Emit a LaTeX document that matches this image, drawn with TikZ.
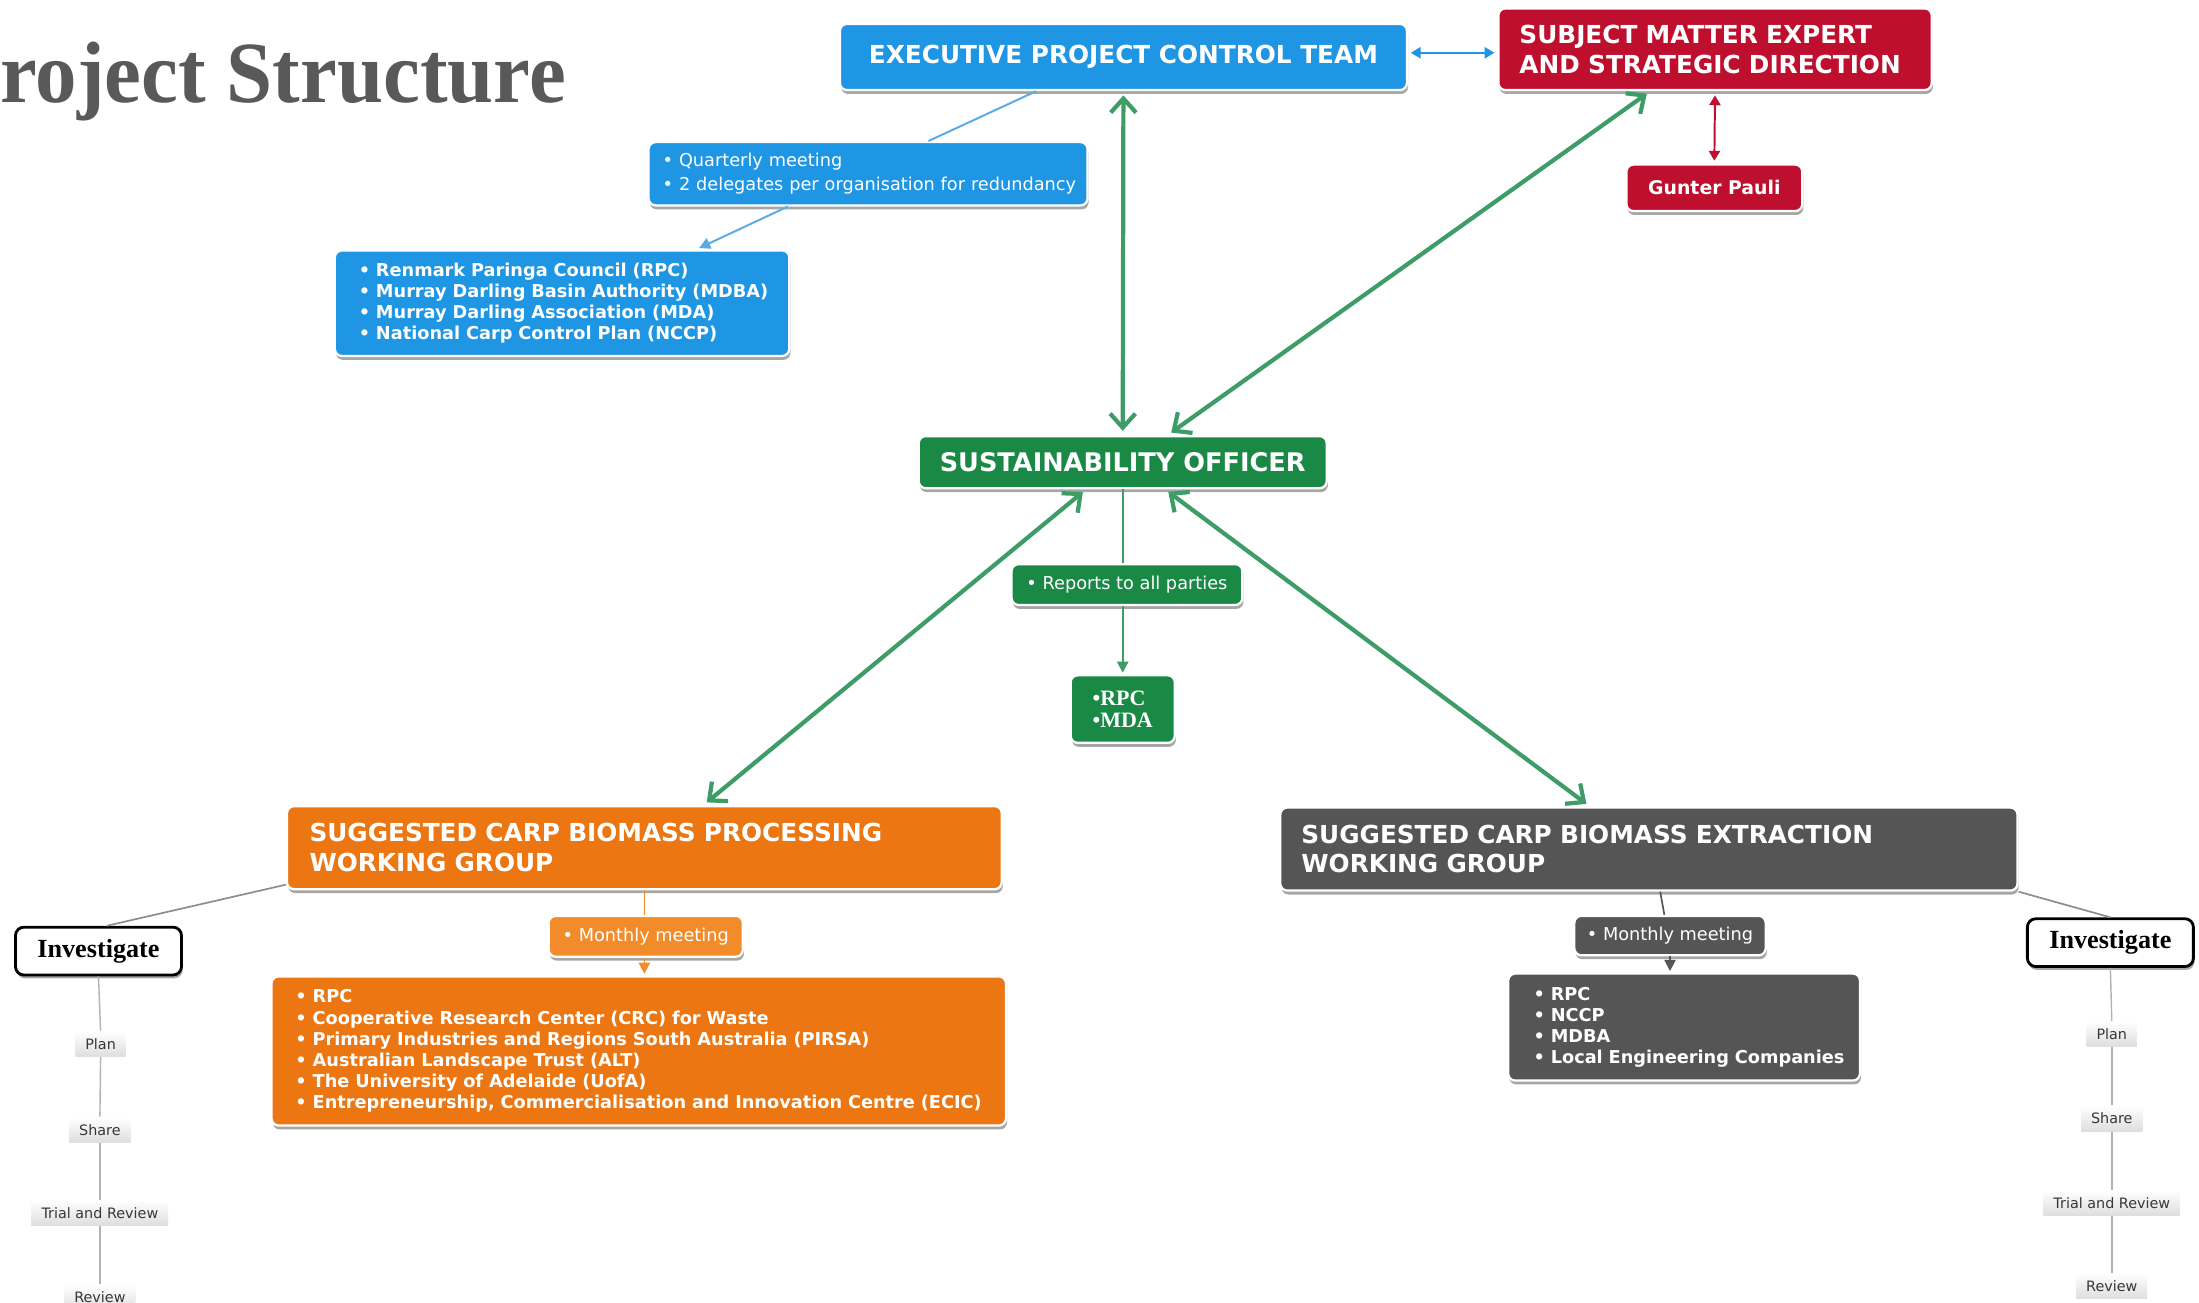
\documentclass[tikz,border=0pt]{standalone}
\usepackage{fontspec}
\setmainfont{DejaVu Sans}
\newfontfamily\serifb{Liberation Serif}
\usetikzlibrary{arrows.meta,shadows,calc}
\definecolor{cblue}{RGB}{30,150,228}
\definecolor{cblueline}{RGB}{90,170,228}
\definecolor{cred}{RGB}{190,16,46}
\definecolor{cgreen}{RGB}{27,137,70}
\definecolor{carrow}{RGB}{62,156,102}
\definecolor{corange}{RGB}{236,119,18}
\definecolor{corangel}{RGB}{242,140,42}
\definecolor{cgray}{RGB}{85,85,85}
\definecolor{ctitle}{RGB}{89,89,89}
\definecolor{clabel}{RGB}{55,55,55}
\tikzset{
 box/.style={draw=white, line width=0.8pt, rounded corners=2.5pt, text=white, inner ysep=0pt,
   drop shadow={shadow xshift=0.4pt, shadow yshift=-1.4pt, opacity=0.35, fill=black}},
 head/.style={box, font=\bfseries\fontsize{8.8}{10.5}\selectfont},
 lst/.style={box, font=\bfseries\fontsize{6.3}{7.5}\selectfont, align=left},
 note/.style={box, font=\fontsize{6.3}{8.5}\selectfont, align=left},
 inv/.style={draw=black, fill=white, line width=1pt, rounded corners=3pt, minimum width=59pt,
   minimum height=17pt, inner sep=0pt, font=\serifb\bfseries\fontsize{9.3}{10}\selectfont,
   drop shadow={shadow xshift=0.4pt, shadow yshift=-1.2pt, opacity=0.35, fill=black}},
 lab/.style={top color=white, bottom color=black!13, text=clabel, font=\fontsize{5.1}{6}\selectfont,
   minimum height=9pt, inner xsep=3.5pt, inner ysep=0pt},
 gline/.style={draw=black!30, line width=0.5pt},
 garrow/.style={draw=carrow, line width=1.5pt, shorten <=1.5pt, shorten >=1.5pt,
   {Straight Barb[length=5pt,width=9pt]}-{Straight Barb[length=5pt,width=9pt]}},
 thinarrow/.style={-{Triangle[length=4pt,width=4pt]}}
}
\begin{document}
\begin{tikzpicture}[x=0.5pt,y=-0.5pt]
\useasboundingbox (0,0) rectangle (1563,926);

% title
\node[anchor=base west, inner sep=0pt, text=ctitle, font=\serifb\bfseries\fontsize{31}{31}\selectfont, xscale=0.95] (title) at (0,73) {roject Structure};

% top row
\node[head, fill=cblue, minimum width=201.5pt, minimum height=23.5pt] (exec) at (798.5,40.5) {EXECUTIVE PROJECT CONTROL TEAM};
\node[head, fill=cred, minimum height=29pt, text width=139pt, inner xsep=7.5pt, align=left] (sme) at (1219,35) {SUBJECT MATTER EXPERT\\AND STRATEGIC DIRECTION};
\node[box, fill=cred, font=\bfseries\fontsize{6.7}{8}\selectfont, minimum width=62.5pt, minimum height=16.5pt] (gunter) at (1218.5,133.5) {Gunter Pauli};

\node[note, fill=cblue, minimum height=22.5pt, text width=146pt, inner xsep=5pt] (quart) at (617,123.5) {\mbox{• Quarterly meeting}\\\mbox{• 2 delegates per organisation for redundancy}};
\node[lst, fill=cblue, minimum height=37.5pt, text width=144.5pt, inner xsep=8.5pt] (renm) at (399.5,215.5) {\mbox{• Renmark Paringa Council (RPC)}\\\mbox{• Murray Darling Basin Authority (MDBA)}\\\mbox{• Murray Darling Association (MDA)}\\\mbox{• National Carp Control Plan (NCCP)}};

% centre
\node[head, fill=cgreen, font=\bfseries\fontsize{9.1}{10.5}\selectfont, minimum width=145pt, minimum height=18.5pt] (sust) at (798,328.5) {SUSTAINABILITY OFFICER};
\node[note, fill=cgreen, minimum width=82pt, minimum height=14.5pt] (reports) at (801,415.5) {• Reports to all parties};
\node[box, fill=cgreen, font=\serifb\bfseries\fontsize{7.8}{8}\selectfont, align=left, minimum width=37pt, minimum height=24pt] (rpcmda) at (798,504) {•RPC\\•MDA};

% processing group
\node[head, fill=corange, minimum height=29.5pt, text width=238pt, inner xsep=8pt, align=left] (proc) at (458,602.5) {SUGGESTED CARP BIOMASS PROCESSING\\WORKING GROUP};
\node[note, fill=corangel, minimum width=69pt, minimum height=14.5pt] (pmeet) at (459,665.5) {• Monthly meeting};
\node[lst, fill=corange, minimum height=53pt, text width=244pt, inner xsep=8.5pt] (plist) at (454,747) {\mbox{• RPC}\\\mbox{• Cooperative Research Center (CRC) for Waste}\\\mbox{• Primary Industries and Regions South Australia (PIRSA)}\\\mbox{• Australian Landscape Trust (ALT)}\\\mbox{• The University of Adelaide (UofA)}\\\mbox{• Entrepreneurship, Commercialisation and Innovation Centre (ECIC)}};

% extraction group
\node[head, fill=cgray, minimum height=29.5pt, text width=247pt, inner xsep=7.5pt, align=left] (ext) at (1172,603.5) {SUGGESTED CARP BIOMASS EXTRACTION\\WORKING GROUP};
\node[note, fill=cgray, minimum width=68pt, minimum height=14pt] (emeet) at (1187,665) {• Monthly meeting};
\node[lst, fill=cgray, minimum height=38pt, text width=107pt, inner xsep=9pt] (elist) at (1197,730) {\mbox{• RPC}\\\mbox{• NCCP}\\\mbox{• MDBA}\\\mbox{• Local Engineering Companies}};

% investigate columns
\node[inv] (invL) at (70,676) {Investigate};
\node[lab] (planL) at (71.5,742) {Plan};
\node[lab] (shareL) at (71,803) {Share};
\node[lab] (trialL) at (71,862) {Trial and Review};
\node[lab] (reviewL) at (71,922) {Review};

\node[inv] (invR) at (1500,670) {Investigate};
\node[lab] (planR) at (1501,735) {Plan};
\node[lab] (shareR) at (1501,795) {Share};
\node[lab] (trialR) at (1501,855) {Trial and Review};
\node[lab] (reviewR) at (1501,914) {Review};

% connectors
\draw[draw=cblue, line width=0.7pt, {Triangle[length=3.5pt,width=4pt]}-{Triangle[length=3.5pt,width=4pt]}, shorten <=1pt, shorten >=1pt] ([yshift=1.5pt]exec.east) -- ([yshift=1.5pt]exec.east -| sme.west);
\draw[draw=cred, line width=0.7pt, {Triangle[length=3.5pt,width=4pt]}-{Triangle[length=3.5pt,width=4pt]}, shorten <=1.5pt, shorten >=1pt] (sme.south) -- (gunter.north);

\draw[draw=cblueline, line width=0.7pt] ([xshift=-31pt]exec.south) -- ([xshift=21.5pt]quart.north);
\draw[draw=cblueline, line width=0.7pt, thinarrow, shorten >=1pt] ([xshift=-28.5pt]quart.south) -- ([xshift=47.75pt]renm.north);

\draw[garrow] (exec.south) -- (sust.north);
\draw[garrow] ([xshift=-23pt]sme.south) -- ([xshift=16pt]sust.north);
\draw[garrow] ([xshift=-13pt]sust.south) -- ([xshift=21pt]proc.north);
\draw[garrow] ([xshift=15pt]sust.south) -- ([xshift=-21pt]ext.north);

\draw[draw=carrow, line width=0.8pt] (sust.south) -- (sust.south |- reports.north);
\draw[draw=carrow, line width=0.8pt, thinarrow, shorten >=0.5pt] (sust.south |- reports.south) -- (sust.south |- rpcmda.north);

\draw[draw=corangel, line width=0.6pt] (proc.south) -- (proc.south |- pmeet.north);
\draw[draw=corangel, line width=0.6pt, thinarrow, shorten >=0.5pt] (proc.south |- pmeet.south) -- (proc.south |- plist.north);

\draw[draw=cgray, line width=0.6pt] ([xshift=4pt]ext.south) -- ([xshift=-2pt]emeet.north);
\draw[draw=cgray, line width=0.6pt, thinarrow, shorten >=0.5pt] (emeet.south) -- (emeet.south |- elist.north);

\draw[draw=black!45, line width=0.6pt] ([yshift=2pt]proc.south west) -- ([xshift=3pt]invL.north);
\draw[draw=black!45, line width=0.6pt] (ext.south east) -- (invR.north);

\draw[gline] (invL.south) -- (planL.north);
\draw[gline] (planL.south) -- (shareL.north);
\draw[gline] (shareL.south) -- (trialL.north);
\draw[gline] (trialL.south) -- (reviewL.north);
\draw[gline] (invR.south) -- (planR.north);
\draw[gline] (planR.south) -- (shareR.north);
\draw[gline] (shareR.south) -- (trialR.north);
\draw[gline] (trialR.south) -- (reviewR.north);
\end{tikzpicture}
\end{document}
